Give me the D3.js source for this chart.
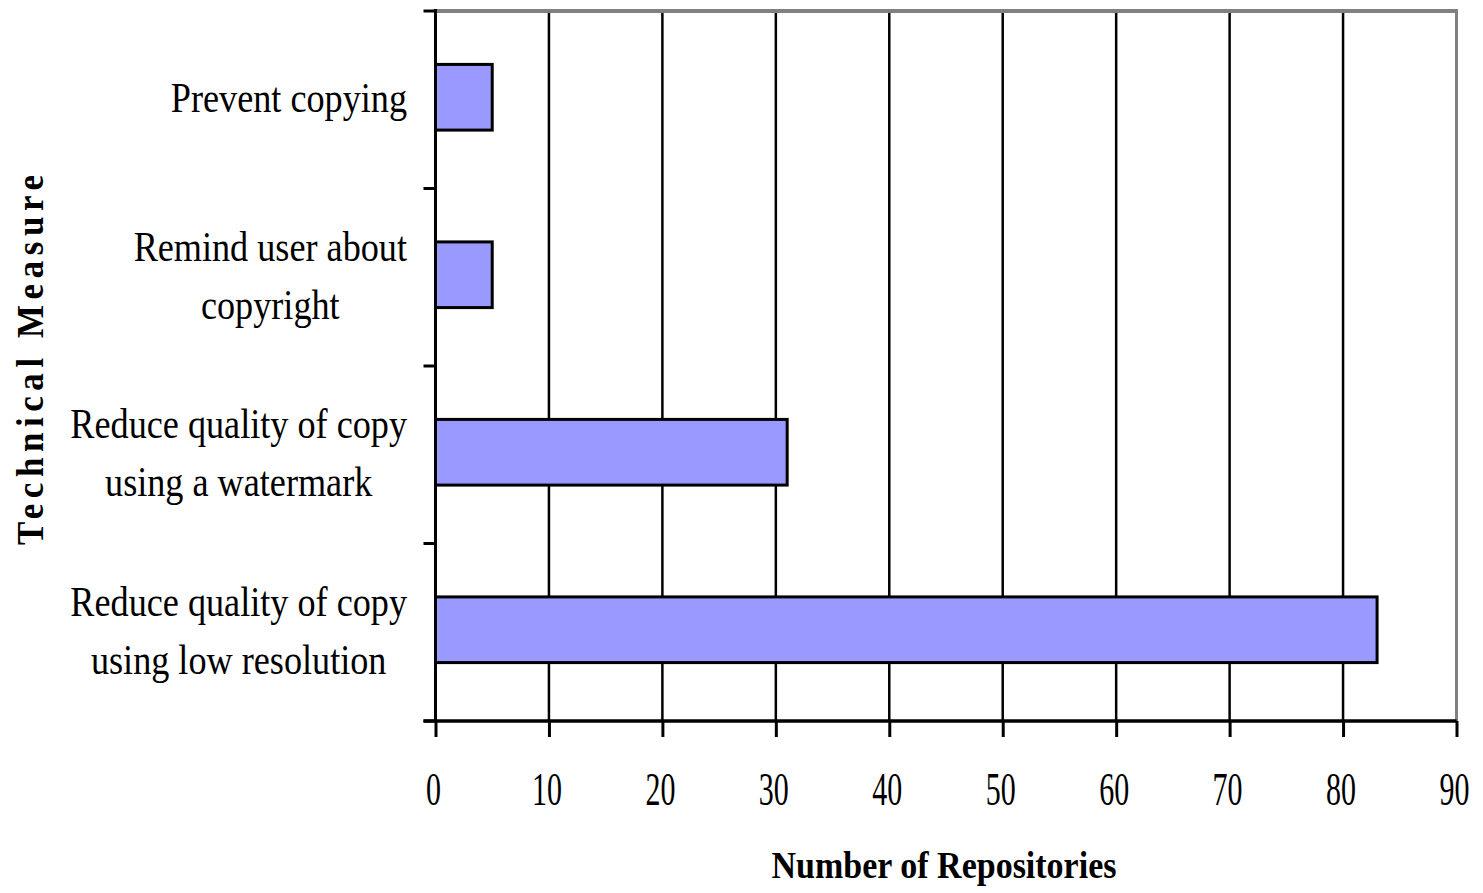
<!DOCTYPE html>
<html>
<head>
<meta charset="utf-8">
<script src="https://cdn.jsdelivr.net/npm/d3@7"></script>
<style>
  html, body { margin: 0; padding: 0; background: #fff; }
  svg { display: block; }
  text { font-family: "Liberation Serif", "Times New Roman", serif; fill: #000; }
</style>
</head>
<body>
<svg id="chart" width="1483" height="893"></svg>
<script>
// Technical measures and the number of repositories using each
const categories = [
  ["Prevent copying"],
  ["Remind user about", "copyright"],
  ["Reduce quality of copy", "using a watermark"],
  ["Reduce quality of copy", "using low resolution"]
];
const counts = [5, 5, 31, 83];
const xTicks = [0, 10, 20, 30, 40, 50, 60, 70, 80, 90];
const xTitle = "Number of Repositories";
const yTitle = "Technical Measure";

const svg = d3.select("#chart");
const plot = { left: 435.5, right: 1456.5, top: 11, bottom: 721 };

const x = d3.scaleLinear().domain([0, 90]).range([plot.left, plot.right]);
const y = d3.scaleBand()
  .domain(d3.range(categories.length))
  .range([plot.top - 2.5, plot.bottom - 2.5])
  .paddingInner(0.63)
  .paddingOuter(0.315);

// Vertical gridlines
svg.append("g")
  .selectAll("line")
  .data(xTicks.filter(t => t > 0 && t < 90))
  .join("line")
  .attr("x1", d => x(d)).attr("x2", d => x(d))
  .attr("y1", plot.top).attr("y2", plot.bottom)
  .attr("stroke", "#000").attr("stroke-width", 2.5);

// Plot frame: grey top and right edges
svg.append("line")
  .attr("x1", plot.left).attr("x2", plot.right + 1.5)
  .attr("y1", plot.top).attr("y2", plot.top)
  .attr("stroke", "#808080").attr("stroke-width", 4);
svg.append("line")
  .attr("x1", plot.right).attr("x2", plot.right)
  .attr("y1", plot.top).attr("y2", plot.bottom)
  .attr("stroke", "#808080").attr("stroke-width", 3);

// Bars
svg.append("g")
  .selectAll("rect")
  .data(counts)
  .join("rect")
  .attr("x", x(0))
  .attr("y", (d, i) => y(i))
  .attr("width", d => x(d) - x(0))
  .attr("height", y.bandwidth())
  .attr("fill", "#9999FF")
  .attr("stroke", "#000")
  .attr("stroke-width", 3);

// Bottom axis
const xAxis = svg.append("g")
  .attr("transform", `translate(0,${plot.bottom})`)
  .call(d3.axisBottom(x).tickValues(xTicks).tickSize(16).tickSizeOuter(0).tickFormat(d3.format("d")));
xAxis.select(".domain").remove();
xAxis.selectAll(".tick line").attr("stroke", "#000").attr("stroke-width", 3);
xAxis.selectAll(".tick text").remove();
xAxis.append("line")
  .attr("x1", plot.left - 12).attr("x2", plot.right)
  .attr("stroke", "#000").attr("stroke-width", 3.5);

// Tick labels, tall and narrow
svg.append("g")
  .selectAll("text")
  .data(xTicks)
  .join("text")
  .attr("text-anchor", "middle")
  .attr("font-size", 30)
  .attr("transform", d => `translate(${x(d) - 2},805) scale(1,1.55)`)
  .text(d => d);

// Left axis with ticks at category boundaries
const step = (plot.bottom - plot.top) / categories.length;
const boundaries = d3.range(categories.length + 1).map(i => plot.top + i * step);
svg.append("line")
  .attr("x1", plot.left).attr("x2", plot.left)
  .attr("y1", plot.top - 2).attr("y2", plot.bottom)
  .attr("stroke", "#000").attr("stroke-width", 3);
svg.append("g")
  .selectAll("line")
  .data(boundaries)
  .join("line")
  .attr("x1", plot.left - 12).attr("x2", plot.left)
  .attr("y1", d => d).attr("y2", d => d)
  .attr("stroke", "#000").attr("stroke-width", 3);

// Category labels: block right-aligned, lines centred within it
const lineGap = 58;
const labelSize = 36.2;
const labelScaleY = 1.16;
categories.forEach((lines, i) => {
  const cy = y(i) + y.bandwidth() / 2;
  const g = svg.append("g");
  const texts = lines.map(s => g.append("text")
    .attr("font-size", labelSize)
    .attr("text-anchor", "middle")
    .text(s));
  const maxW = d3.max(texts, t => t.node().getComputedTextLength());
  const cx = 407 - maxW / 2;
  const firstBase = cy + 15 - (lines.length - 1) * lineGap / 2;
  texts.forEach((t, k) => {
    t.attr("transform", `translate(${cx},${firstBase + k * lineGap}) scale(1,${labelScaleY})`);
  });
});

// Axis titles
svg.append("text")
  .attr("font-size", 34)
  .attr("font-weight", "bold")
  .attr("text-anchor", "middle")
  .attr("transform", "translate(944,878) scale(1,1.1)")
  .text(xTitle);

svg.append("text")
  .attr("font-size", 35)
  .attr("font-weight", "bold")
  .attr("text-anchor", "middle")
  .attr("textLength", 370)
  .attr("lengthAdjust", "spacing")
  .attr("transform", "translate(43,360) rotate(-90) scale(1,1.1)")
  .text(yTitle);
</script>
</body>
</html>
